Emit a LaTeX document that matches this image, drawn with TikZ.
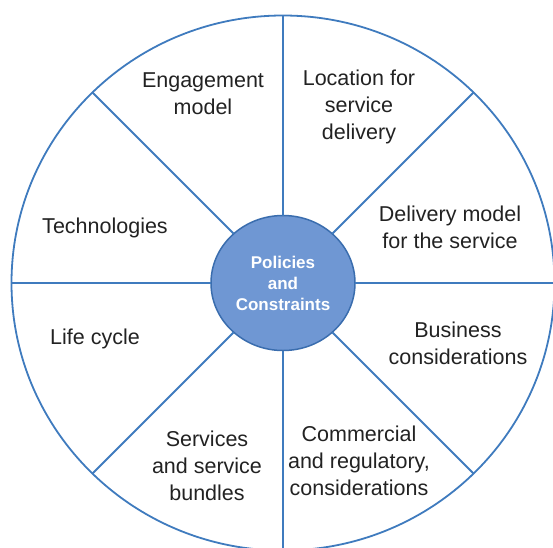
\documentclass[tikz,border=0pt]{standalone}
\usepackage{fontspec}
\setmainfont{Liberation Sans}
\usetikzlibrary{shapes.geometric}
\definecolor{linecol}{HTML}{3F7BBE}
\definecolor{hubfill}{HTML}{6F97D3}
\definecolor{hubline}{HTML}{3A6DAE}
\definecolor{txtcol}{HTML}{222222}
\tikzset{
  rim/.style={ellipse, draw=linecol, line width=1.8pt, inner sep=0pt, outer sep=0pt},
  spoke/.style={draw=linecol, line width=1.8pt},
  hub/.style={ellipse, draw=hubline, line width=1.5pt, fill=hubfill, inner sep=0pt, outer sep=0pt,
    minimum width=144pt, minimum height=135pt, text=white, align=center,
    font=\fontsize{17}{21}\selectfont\bfseries},
  lbl/.style={align=center, text=txtcol, inner sep=0pt, font=\fontsize{21.5}{27}\selectfont}
}
\begin{document}
\begin{tikzpicture}[x=1pt,y=-1pt]
\useasboundingbox (0,0) rectangle (553,547);
\clip (0,0) rectangle (553,547);
\node[rim, minimum width=543pt, minimum height=535pt] (outer) at (283,283) {};
\node[hub] (hub) at (283,283) {Policies\\and\\Constraints};
\foreach \a in {0,45,...,315} {
  \draw[spoke] (hub) -- (outer.\a);
}
\node[lbl] (engage) at (203,94) {Engagement\\model};
\node[lbl] (location) at (359,107) {Location for\\service\\delivery};
\node[lbl] (tech) at (105,228) {Technologies};
\node[lbl] (delivery) at (450,227) {Delivery model\\for the service};
\node[lbl] (life) at (95,339) {Life cycle};
\node[lbl] (business) at (458,343) {Business\\considerations};
\node[lbl] (services) at (207,466) {Services\\and service\\bundles};
\node[lbl] (commercial) at (359,461) {Commercial\\and regulatory,\\considerations};
\end{tikzpicture}
\end{document}
